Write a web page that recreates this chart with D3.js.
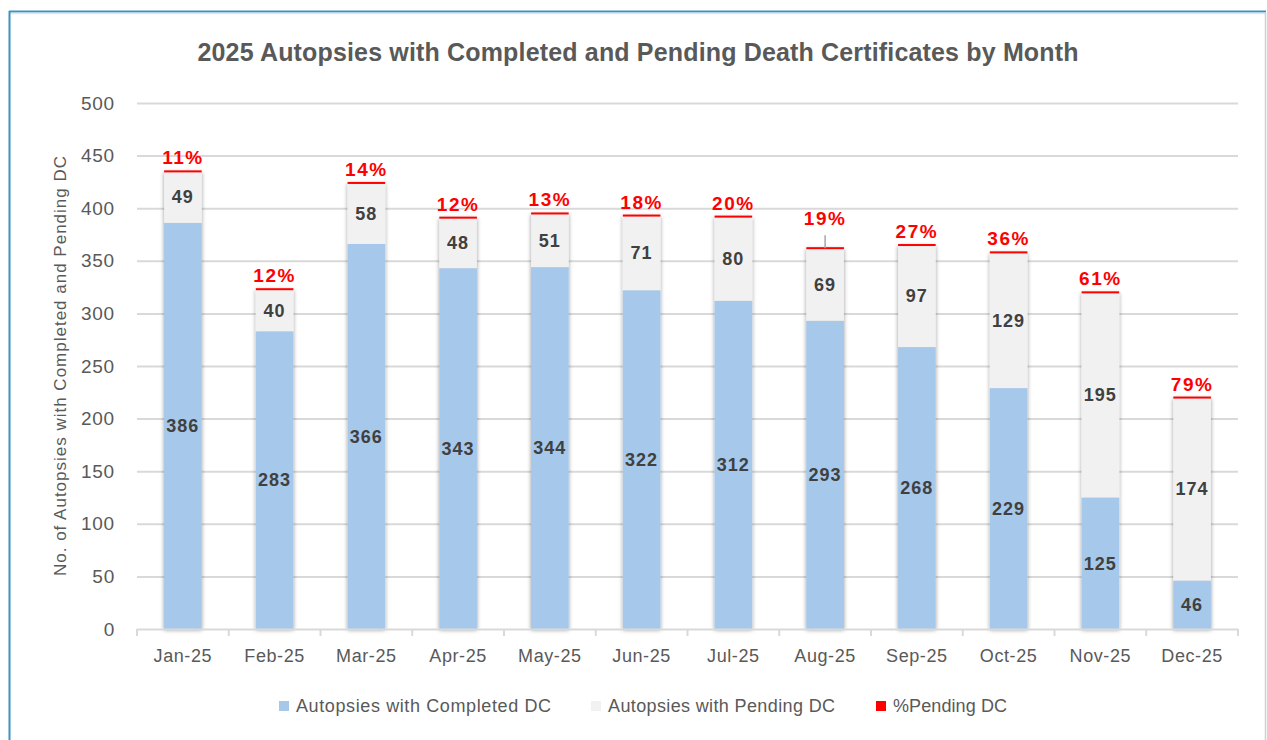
<!DOCTYPE html>
<html>
<head>
<meta charset="utf-8">
<script src="https://cdn.jsdelivr.net/npm/d3@7"></script>
<style>
  body { margin: 0; background: #fff; }
  text { font-family: "Liberation Sans", Arial, sans-serif; }
</style>
</head>
<body>
<div id="chart"></div>
<script>
// chart data
const months = ["Jan-25", "Feb-25", "Mar-25", "Apr-25", "May-25", "Jun-25", "Jul-25", "Aug-25", "Sep-25", "Oct-25", "Nov-25", "Dec-25"];
const completed = [386, 283, 366, 343, 344, 322, 312, 293, 268, 229, 125, 46];
const pending = [49, 40, 58, 48, 51, 71, 80, 69, 97, 129, 195, 174];
const pctPending = [11, 12, 14, 12, 13, 18, 20, 19, 27, 36, 61, 79];
const yTicks = [0, 50, 100, 150, 200, 250, 300, 350, 400, 450, 500];
const legendNames = ["Autopsies with Completed DC", "Autopsies with Pending DC", "%Pending DC"];

const W = 1267, H = 740;
let margin = {top: 103, right: 29, bottom: 111, left: 137};
let width = W - margin.left - margin.right;
let height = H - margin.top - margin.bottom;

const BLUE = "#a6c8ea", GREY = "#f1f1f1", RED = "#ff0000";

let svg = d3.select("#chart").append("svg")
  .attr("width", W).attr("height", H);

// drop shadow used on the bars
let defs = svg.append("defs");
defs.append("filter").attr("id", "shadow")
  .attr("x", "-30%").attr("y", "-5%").attr("width", "160%").attr("height", "110%")
  .append("feDropShadow")
  .attr("dx", 0).attr("dy", 1).attr("stdDeviation", 2.2)
  .attr("flood-color", "#000").attr("flood-opacity", 0.4);

// frame around the chart
svg.append("line").attr("x1", 9).attr("x2", 1266).attr("y1", 11.5).attr("y2", 11.5)
  .attr("stroke", "#3a93c3").attr("stroke-width", 2);
svg.append("line").attr("x1", 10).attr("x2", 1265).attr("y1", 13.5).attr("y2", 13.5)
  .attr("stroke", "#e6e6e6").attr("stroke-width", 1.5);
svg.append("line").attr("x1", 9.5).attr("x2", 9.5).attr("y1", 11).attr("y2", H)
  .attr("stroke", "#3a93c3").attr("stroke-width", 2);
svg.append("line").attr("x1", 1265.5).attr("x2", 1265.5).attr("y1", 12).attr("y2", H)
  .attr("stroke", "#d0d0d0").attr("stroke-width", 1.5);

let g = svg.append("g").attr("transform", "translate(" + margin.left + "," + margin.top + ")");

let xScale = d3.scaleBand().domain(months).range([0, width]).paddingInner(0.59).paddingOuter(0.295);
let yScale = d3.scaleLinear().domain([0, 500]).range([height, 0]);

// gridlines + y labels
let yAxis = d3.axisLeft(yScale).tickValues(yTicks).tickSize(-width).tickPadding(22);
let yG = g.append("g").call(yAxis);
yG.select(".domain").remove();
yG.selectAll(".tick line").attr("stroke", "#d9d9d9").attr("stroke-width", 2)
  .filter(d => d === 0).remove();
yG.selectAll(".tick text").attr("fill", "#595959")
  .style("font-size", "19px").style("letter-spacing", "0.8px");

// stacked bars
let stackData = months.map((m, i) => ({month: m, completed: completed[i], pending: pending[i]}));
let series = d3.stack().keys(["completed", "pending"])(stackData);
let colors = {completed: BLUE, pending: GREY};

let barG = g.append("g").attr("class", "bars").attr("filter", "url(#shadow)");
months.forEach((m, i) => {
  series.forEach(s => {
    let d = s[i];
    barG.append("rect")
      .attr("x", xScale(m))
      .attr("width", xScale.bandwidth())
      .attr("y", yScale(d[1]))
      .attr("height", yScale(d[0]) - yScale(d[1]))
      .attr("fill", colors[s.key]);
  });
});

// red %pending marker on top of each bar
g.append("g").selectAll("rect").data(months).enter().append("rect")
  .attr("x", m => xScale(m))
  .attr("width", xScale.bandwidth())
  .attr("y", (m, i) => yScale(completed[i] + pending[i]) - 1)
  .attr("height", 2)
  .attr("fill", RED);

// segment labels
series.forEach(s => {
  g.append("g").selectAll("text").data(s).enter().append("text")
    .attr("x", d => xScale(d.data.month) + xScale.bandwidth() / 2)
    .attr("y", d => (yScale(d[0]) + yScale(d[1])) / 2)
    .attr("dy", "0.35em")
    .attr("text-anchor", "middle")
    .attr("fill", "#404040")
    .style("font-size", "18px").style("font-weight", "bold").style("letter-spacing", "1px")
    .text(d => d[1] - d[0]);
});

// percent labels, Aug sits higher with a leader line
const lifted = {"Aug-25": 16};
months.forEach((m, i) => {
  let cx = xScale(m) + xScale.bandwidth() / 2;
  let top = yScale(completed[i] + pending[i]);
  let lift = lifted[m] || 0;
  if (lift) {
    g.append("line").attr("x1", cx).attr("x2", cx)
      .attr("y1", top - 13).attr("y2", top)
      .attr("stroke", "#a6a6a6").attr("stroke-width", 1.5);
  }
  g.append("text")
    .attr("x", cx)
    .attr("y", top - 7 - lift)
    .attr("text-anchor", "middle")
    .attr("fill", RED)
    .style("font-size", "19px").style("font-weight", "bold").style("letter-spacing", "1.5px")
    .text(pctPending[i] + "%");
});

// x axis
let xBoundary = d3.scaleLinear().domain([0, months.length]).range([0, width]);
let xAxisG = g.append("g").attr("transform", "translate(0," + height + ")");
xAxisG.append("line").attr("x1", 0).attr("x2", width).attr("y1", 0.5).attr("y2", 0.5)
  .attr("stroke", "#d9d9d9").attr("stroke-width", 2);
xAxisG.selectAll("line.tk").data(d3.range(months.length + 1)).enter().append("line")
  .attr("class", "tk")
  .attr("x1", d => xBoundary(d)).attr("x2", d => xBoundary(d))
  .attr("y1", 0).attr("y2", 7)
  .attr("stroke", "#d9d9d9").attr("stroke-width", 2);
xAxisG.selectAll("text").data(months).enter().append("text")
  .attr("x", m => xScale(m) + xScale.bandwidth() / 2)
  .attr("y", 33)
  .attr("text-anchor", "middle")
  .attr("fill", "#595959")
  .style("font-size", "18px").style("letter-spacing", "0.6px")
  .text(m => m);

// y axis title
svg.append("text")
  .attr("transform", "translate(66," + (margin.top + height / 2) + ") rotate(-90)")
  .attr("text-anchor", "middle")
  .attr("fill", "#595959")
  .style("font-size", "17px")
  .attr("textLength", 420).attr("lengthAdjust", "spacing")
  .text("No. of Autopsies with Completed and Pending DC");

// chart title
svg.append("text")
  .attr("x", 638).attr("y", 61)
  .attr("text-anchor", "middle")
  .attr("fill", "#595959")
  .style("font-size", "25px").style("font-weight", "bold")
  .attr("textLength", 881).attr("lengthAdjust", "spacing")
  .text("2025 Autopsies with Completed and Pending Death Certificates by Month");

// legend
const legendX = [279, 591, 876];
const legendW = [255, 227, 114];
const legendColors = [BLUE, GREY, RED];
let leg = svg.append("g").attr("transform", "translate(0,706)");
legendNames.forEach((name, i) => {
  leg.append("rect").attr("x", legendX[i]).attr("y", -5).attr("width", 10).attr("height", 10)
    .attr("fill", legendColors[i]);
  leg.append("text").attr("x", legendX[i] + 17).attr("y", 0).attr("dy", "0.35em")
    .attr("fill", "#595959").style("font-size", "18px")
    .attr("textLength", legendW[i]).attr("lengthAdjust", "spacing")
    .text(name);
});
</script>
</body>
</html>
